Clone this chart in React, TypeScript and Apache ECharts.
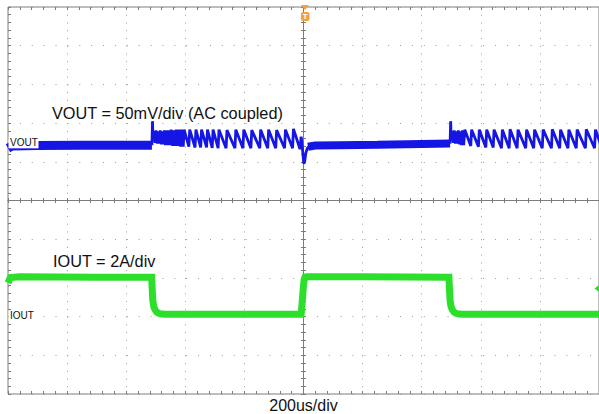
import React, { useEffect, useRef } from "react";
import * as echarts from "echarts";

// ---- scope settings ----
const TIME_MIN_US = -1000;
const TIME_MAX_US = 1000;
const VOUT_MV_PER_DIV = 50;
const VOUT_OFFSET_DIV = 1.49;
const IOUT_A_PER_DIV = 2;
const IOUT_OFFSET_DIV = -2.98;

const titleVout = "VOUT = 50mV/div (AC coupled)";
const titleIout = "IOUT = 2A/div";
const timebaseLabel = "200us/div";
const voutMarker = "VOUT";
const ioutMarker = "IOUT";

// ---- VOUT (mV, AC coupled) vs time (us) ----
const voutBeforeStep: [number, number][] = [
  [-1000, -7], [-986, -4], [-900, -3.5], [-750, -3], [-600, -3], [-513, -3],
];
const voutLightLoad1: [number, number][] = [
  [-513, -3], [-511, 28], [-509, 3],
  [-506, 15], [-502, 0], [-499, 16], [-495, -1], [-492, 15], [-488, -1], [-485, 16], [-481, -2],
  [-478, 15], [-474, -2], [-471, 16], [-467, -3], [-464, 16], [-459, -3], [-456, 16], [-451, -3],
  [-448, 17], [-443, -4], [-440, 16], [-434, -4], [-431, 17], [-425, -4], [-422, 17], [-416, -5],
  [-413, 17], [-407, -5],
  [-404, 17], [-388, -5], [-385, 17], [-367, -6], [-364, 17], [-348, -6], [-345, 17], [-328, -6],
  [-325, 17], [-309, -6.5], [-306, 17], [-289, -7], [-286, 17], [-262, -7], [-259, 16.5], [-232, -7],
  [-229, 17], [-205, -7], [-202, 17], [-178, -7], [-175, 16.5], [-148, -7], [-145, 17], [-121, -7],
  [-118, 17], [-94, -7], [-91, 16.5], [-64, -7], [-61, 17], [-37, -7], [-34, 18], [-12, -8],
  [-8, 8], [-4, -6], [1, -27], [4, -24], [8, -13], [13, -7], [18, -5],
];
const voutAfterStep: [number, number][] = [
  [15, -5], [40, -3.5], [120, -3], [250, -2.5], [400, -1.5], [496, -1],
];
const voutLightLoad2: [number, number][] = [
  [496, -1], [498, 28], [500, 3],
  [503, 15], [507, 0], [510, 16], [514, -1], [517, 15], [521, -1], [524, 16], [528, -2], [531, 15],
  [535, -3], [538, 16], [542, -3],
  [546, 17], [566, -4], [569, 17], [592, -5], [595, 17], [617, -6], [620, 17], [642, -6],
  [645, 17], [670, -7], [673, 17], [696, -7], [699, 17.5], [723, -7], [726, 17], [752, -7],
  [755, 17], [779, -7], [782, 17], [808, -7], [811, 17], [839, -7], [842, 17.5], [867, -7],
  [870, 17], [895, -7], [898, 17], [923, -7], [926, 17], [954, -7], [957, 17.5], [985, -7],
  [988, 17], [1010, -7],
];

// ---- IOUT (A) vs time (us) ----
const ioutTrace: [number, number][] = [
  [-1000, 1.7], [-992, 1.98], [-960, 2.02], [-700, 2.0], [-514, 2.0], [-512, 1.4], [-510, 0.8],
  [-507, 0.5], [-503, 0.33], [-497, 0.2], [-490, 0.13], [-480, 0.09], [-465, 0.08],
  [-200, 0.08], [-8, 0.08], [-5, 0.6], [-1, 1.4], [2, 1.85], [5, 2.0], [10, 2.02],
  [200, 2.02], [492, 2.0], [494, 1.4], [496, 0.8], [499, 0.5], [503, 0.33], [509, 0.2],
  [516, 0.13], [526, 0.09], [541, 0.08], [1000, 0.08],
];

// ---- layout / style ----
const W = 599;
const H = 414;
const G_LEFT = 8;
const G_TOP = 7;
const G_W = 594;
const G_H = 387;
const DIV_X = G_W / 10;
const DIV_Y = G_H / 10;
const BLUE = "#1616e4";
const GREEN = "#2bdf2b";
const AXIS = "#7c7c7c";
const DOT = "#9a9a9a";
const ORANGE = "#f2a23a";
const FONT = '"Liberation Sans", Arial, sans-serif';

const tickAxis = (extra: any) => ({
  type: "value",
  min: -5,
  max: 5,
  interval: 0.2,
  axisLabel: { show: false },
  splitLine: { show: false },
  ...extra,
});

export default function App() {
  const ref = useRef<HTMLDivElement>(null);
  useEffect(() => {
    if (!ref.current) return;
    const chart = echarts.init(ref.current, null, { renderer: "svg" });
    const voutMin = (-5 - VOUT_OFFSET_DIV) * VOUT_MV_PER_DIV;
    const voutMax = (5 - VOUT_OFFSET_DIV) * VOUT_MV_PER_DIV;
    const ioutMin = (-5 - IOUT_OFFSET_DIV) * IOUT_A_PER_DIV;
    const ioutMax = (5 - IOUT_OFFSET_DIV) * IOUT_A_PER_DIV;
    const voutMarkerY = G_TOP + (5 - VOUT_OFFSET_DIV) * DIV_Y;
    const ioutMarkerY = G_TOP + (5 - IOUT_OFFSET_DIV) * DIV_Y;
    const centerX = G_LEFT + 5 * DIV_X;

    const line = (data: [number, number][], yIdx: number, color: string, width: number, join = "bevel") => ({
      type: "line",
      xAxisIndex: 5,
      yAxisIndex: yIdx,
      data,
      symbol: "none",
      showSymbol: false,
      silent: true,
      clip: true,
      lineStyle: { color, width, join },
      z: 5,
    });

    chart.setOption({
      animation: false,
      grid: {
        left: G_LEFT,
        top: G_TOP,
        width: G_W,
        height: G_H,
        show: true,
        borderColor: AXIS,
        borderWidth: 1,
        backgroundColor: "transparent",
        containLabel: false,
      },
      xAxis: [
        {
          type: "value", min: -5, max: 5, interval: 1, position: "bottom",
          axisLine: { show: false, onZero: false }, axisTick: { show: false }, axisLabel: { show: false },
          splitLine: { show: true, lineStyle: { color: DOT, width: 1, type: [1, DIV_Y / 5 - 1] } },
        },
        tickAxis({ position: "bottom", axisLine: { show: false, onZero: false },
          axisTick: { show: true, inside: true, length: 3, lineStyle: { color: AXIS } } }),
        tickAxis({ position: "top", axisLine: { show: false, onZero: false },
          axisTick: { show: true, inside: true, length: 3, lineStyle: { color: AXIS } } }),
        tickAxis({ position: "bottom", axisLine: { show: true, onZero: true, onZeroAxisIndex: 0, lineStyle: { color: AXIS, width: 1 } },
          axisTick: { show: true, inside: true, length: 2.5, lineStyle: { color: AXIS } } }),
        tickAxis({ position: "bottom", axisLine: { show: true, onZero: true, onZeroAxisIndex: 0, lineStyle: { color: AXIS, width: 1 } },
          axisTick: { show: true, inside: false, length: 2.5, lineStyle: { color: AXIS } } }),
        { type: "value", min: TIME_MIN_US, max: TIME_MAX_US, show: false, axisLine: { onZero: false } },
      ],
      yAxis: [
        {
          type: "value", min: -5, max: 5, interval: 1, position: "left",
          axisLine: { show: false, onZero: false }, axisTick: { show: false }, axisLabel: { show: false },
          splitLine: { show: true, lineStyle: { color: DOT, width: 1, type: [1, DIV_X / 5 - 1] } },
        },
        tickAxis({ position: "left", axisLine: { show: false, onZero: false },
          axisTick: { show: true, inside: true, length: 3, lineStyle: { color: AXIS } } }),
        tickAxis({ position: "left", axisLine: { show: true, onZero: true, onZeroAxisIndex: 0, lineStyle: { color: AXIS, width: 1 } },
          axisTick: { show: true, inside: true, length: 2.5, lineStyle: { color: AXIS } } }),
        tickAxis({ position: "left", axisLine: { show: true, onZero: true, onZeroAxisIndex: 0, lineStyle: { color: AXIS, width: 1 } },
          axisTick: { show: true, inside: false, length: 2.5, lineStyle: { color: AXIS } } }),
        { type: "value", min: voutMin, max: voutMax, show: false, axisLine: { onZero: false } },
        { type: "value", min: ioutMin, max: ioutMax, show: false, axisLine: { onZero: false } },
      ],
      series: [
        line(voutBeforeStep, 4, BLUE, 9),
        line(voutLightLoad1, 4, BLUE, 2.8),
        line(voutAfterStep, 4, BLUE, 8),
        line(voutLightLoad2, 4, BLUE, 2.8),
        line(ioutTrace, 5, GREEN, 7, "miter"),
      ],
      graphic: [
        {
          type: "text", x: 52, y: 113, z: 20,
          style: { text: titleVout, font: `16.3px ${FONT}`, fill: "#111", textVerticalAlign: "middle", verticalAlign: "middle" },
        },
        {
          type: "text", x: 53, y: 261, z: 20,
          style: { text: titleIout, font: `16.3px ${FONT}`, fill: "#111", textVerticalAlign: "middle", verticalAlign: "middle" },
        },
        {
          type: "text", x: 303.5, y: 405.5, z: 20,
          style: { text: timebaseLabel, font: `16px ${FONT}`, fill: "#111", textAlign: "center", align: "center", textVerticalAlign: "middle", verticalAlign: "middle" },
        },
        { type: "rect", z: 20, shape: { x: G_LEFT + 0.5, y: voutMarkerY - 5.5, width: 30, height: 11 }, style: { fill: "#fff" } },
        {
          type: "text", x: 10, y: voutMarkerY, z: 21,
          style: { text: voutMarker, font: `10px ${FONT}`, fill: "#111", textVerticalAlign: "middle", verticalAlign: "middle" },
        },
        { type: "rect", z: 20, shape: { x: G_LEFT + 0.5, y: ioutMarkerY - 5.5, width: 26, height: 11 }, style: { fill: "#fff" } },
        {
          type: "text", x: 10, y: ioutMarkerY, z: 21,
          style: { text: ioutMarker, font: `10px ${FONT}`, fill: "#111", textVerticalAlign: "middle", verticalAlign: "middle" },
        },
        { type: "polygon", z: 20, shape: { points: [[centerX - 4, G_TOP - 2], [centerX + 4, G_TOP - 2], [centerX, G_TOP + 3]] }, style: { fill: ORANGE } },
        { type: "rect", z: 20, shape: { x: centerX - 4, y: 12, width: 8.5, height: 9, r: 2 }, style: { fill: ORANGE } },
        {
          type: "text", x: centerX + 0.3, y: 16.5, z: 21,
          style: { text: "T", font: `bold 8px ${FONT}`, fill: "#fff", textAlign: "center", align: "center", textVerticalAlign: "middle", verticalAlign: "middle" },
        },
        { type: "polygon", z: 20, shape: { points: [[594.5, 288.5], [599, 285], [599, 292]] }, style: { fill: GREEN } },
      ],
    });
    return () => chart.dispose();
  }, []);
  return (
    <div
      ref={ref}
      style={{ position: "fixed", left: 0, top: 0, width: W, height: H, background: "#fff" }}
    />
  );
}
